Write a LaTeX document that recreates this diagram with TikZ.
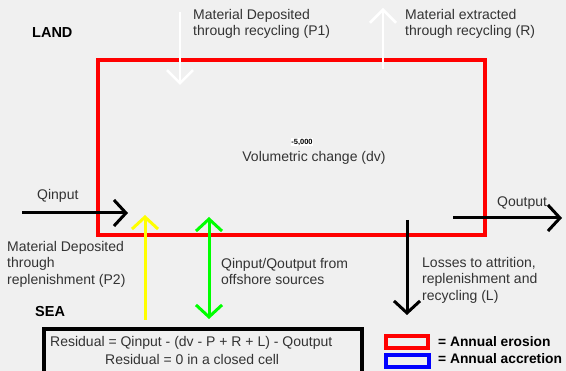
\documentclass[tikz,border=0pt]{standalone}
\usepackage{fontspec}
\setmainfont{Liberation Sans}
\usetikzlibrary{arrows.meta}
\definecolor{bg}{HTML}{F0F0F0}
\definecolor{ered}{HTML}{FF0000}
\definecolor{eyel}{HTML}{FFFF00}
\definecolor{egrn}{HTML}{00FF00}
\definecolor{eblu}{HTML}{0000FF}
\definecolor{txt}{HTML}{333333}
\tikzset{
  x=1pt,y=1pt,
  lbl/.style={font=\fontsize{14}{16.5}\selectfont, align=left, anchor=north west, inner sep=0pt, text=txt},
  one/.style={font=\fontsize{14}{17}\selectfont, anchor=west, inner sep=0pt, text=txt},
  bold/.style={font=\fontsize{14.5}{16}\selectfont\bfseries, inner sep=0pt, anchor=west},
  legtext/.style={font=\fontsize{13.8}{16}\selectfont\bfseries, inner sep=0pt, anchor=west},
  bigarrow/.style={line width=3pt, -{Straight Barb[length=12pt,width=26pt,line width=3pt]}},
  whitearrow/.style={line width=2.6pt, white, -{Straight Barb[length=13pt,width=26pt,line width=2.6pt]}},
}
\begin{document}
\begin{tikzpicture}
\fill[bg] (0,0) rectangle (566,371);
\useasboundingbox (0,0) rectangle (566,371);

% cell
\draw[ered, line width=4pt] (98,311) rectangle (485,135.5);

% labels
\node[bold] (land) at (32,338) {LAND};
\node[bold] (sea) at (35,59) {SEA};
\node[lbl] (p1) at (193,362) {Material Deposited\\through recycling (P1)};
\node[lbl] (r) at (405,362) {Material extracted\\through recycling (R)};
\node[fill=white, inner sep=0.8pt, font=\fontsize{7.5}{8}\selectfont\bfseries] (val) at (302,229) {-5,000};
\node[font=\fontsize{14}{17}\selectfont, text=txt, inner sep=0pt] (dv) at (314,213) {Volumetric change (dv)};
\node[one] (qin) at (37,175) {Qinput};
\node[one] (qout) at (497,168) {Qoutput};
\node[lbl] (p2) at (7,130) {Material Deposited\\through\\replenishment (P2)};
\node[lbl] (off) at (221,113) {Qinput/Qoutput from\\offshore sources};
\node[lbl] (loss) at (422,114) {Losses to attrition,\\replenishment and\\recycling (L)};

% arrows
\coordinate (p1a) at (180,359); \coordinate (p1b) at (180,286);
\draw[whitearrow] (p1a) -- (p1b);
\coordinate (ra) at (383,302); \coordinate (rb) at (383,363);
\draw[whitearrow] (ra) -- (rb);
\coordinate (qina) at (22,158); \coordinate (qinb) at (128,158);
\draw[bigarrow, black] (qina) -- (qinb);
\coordinate (qouta) at (453,153); \coordinate (qoutb) at (562,153);
\draw[bigarrow, black] (qouta) -- (qoutb);
\coordinate (ya) at (145,51); \coordinate (yb) at (145,156);
\draw[bigarrow, eyel] (ya) -- (yb);
\coordinate (ga) at (209,154); \coordinate (gb) at (209,52);
\draw[bigarrow, egrn, {Straight Barb[length=12pt,width=26pt,line width=3pt]}-{Straight Barb[length=12pt,width=26pt,line width=3pt]}] (ga) -- (gb);
\coordinate (la) at (407,151); \coordinate (lb) at (407,56);
\draw[bigarrow, black] (la) -- (lb);

% residual box
\draw[black, line width=4pt] (44,-10) rectangle (362,42);
\node[one] (res1) at (50,28) {Residual = Qinput - (dv - P + R + L) - Qoutput};
\node[one] (res2) at (105,11) {Residual = 0 in a closed cell};

% legend
\draw[ered, line width=3.5pt] (386,35) rectangle (428,23);
\draw[eblu, line width=3.5pt] (386,16) rectangle (429,4);
\node[legtext] (ero) at (438,29) {= Annual erosion};
\node[legtext] (acc) at (438,12) {= Annual accretion};
\end{tikzpicture}
\end{document}
